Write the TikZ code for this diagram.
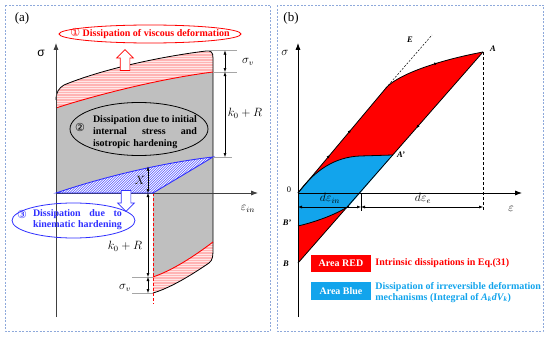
\documentclass[tikz,border=0pt]{standalone}
\usepackage{fontspec}
\setmainfont{Liberation Serif}
\setsansfont{Liberation Sans}
\newfontfamily\circfont{DejaVu Sans}
\usepackage{tikz}
\usetikzlibrary{arrows.meta,positioning,shapes.geometric,shapes.arrows,decorations.markings}
\definecolor{panelblue}{HTML}{8EA9DB}
\definecolor{axisgray}{HTML}{404040}
\definecolor{tickgray}{HTML}{A6A6A6}
\definecolor{bodygray}{HTML}{BFBFBF}
\definecolor{viscred}{HTML}{FF0000}
\definecolor{softred}{HTML}{FFB4B4}
\definecolor{palered}{HTML}{FFE6E6}
\definecolor{kinblue}{HTML}{2F2FFF}
\definecolor{areablue}{HTML}{12A4EC}
\tikzset{
  frameline/.style={draw=panelblue, dash pattern=on 2pt off 1.5pt, line width=0.6pt},
  panelnode/.style={font=\fontsize{13}{15}\selectfont, inner sep=0pt},
  axisedge/.style={-{Latex[length=2.4mm, width=1.8mm]}, line width=1pt, draw=axisgray},
  curveedge/.style={line width=0.8pt, draw=black},
  dimedge/.style={{Latex[length=4pt, width=3pt]}-{Latex[length=4pt, width=3pt]}, line width=0.5pt, draw=black},
  tickline/.style={line width=0.5pt, draw=tickgray},
  hatchline/.style={line width=0.5pt},
  ovalnode/.style={ellipse, line width=0.8pt, inner sep=0pt},
  ovaltext/.style={font=\fontsize{10}{12}\selectfont\bfseries, align=left, inner sep=0pt},
  circnode/.style={font=\circfont\fontsize{11}{12}\selectfont, inner sep=0pt},
  hollowarrow/.style={single arrow, line width=0.7pt, fill=white, inner sep=4.5pt, minimum height=21pt, single arrow head extend=3.5pt},
  mathlabel/.style={font=\fontsize{12}{14}\selectfont, inner sep=0pt},
  pointlabel/.style={font=\fontsize{8.5}{10}\selectfont\bfseries\itshape, inner sep=0pt},
  legendbox/.style={minimum width=60pt, minimum height=17.5pt, inner sep=0pt, text=white, font=\fontsize{10}{12}\selectfont\bfseries},
  legendtext/.style={font=\fontsize{10}{10.5}\selectfont\bfseries, align=left, inner sep=0pt},
  flowmark/.style={postaction={decorate, decoration={markings, mark=at position #1 with {\arrow{Latex[length=3pt, width=3pt]}}}}}
}

\begin{document}
\begin{tikzpicture}[x=1pt, y=-1pt]
  \useasboundingbox (0,0) rectangle (550,340);
  % panel frames
  \draw[frameline] (5,5) rectangle (270,331);
  \draw[frameline] (277,5) rectangle (543,331);
  \node[panelnode] (taga) at (22,18) {(a)};
  \node[panelnode] (tagb) at (291,18) {(b)};

  % ---------- (a) ----------
  \coordinate (oa) at (56,193);
  \fill[bodygray] (oa) -- (56,100) .. controls (56,92) and (59,88) .. (64,85) .. controls (95,72) and (150,58) .. (206,51) .. controls (211,50.5) and (213,52) .. (213,58)
    -- (213,246) .. controls (213,256) and (213,260) .. (209,263) .. controls (190,276) and (170,288) .. (153,293) -- (153,193) -- cycle;
  % viscous part, top
  \begin{scope}
    \clip (56,108) -- (56,100) .. controls (56,92) and (59,88) .. (64,85) .. controls (95,72) and (150,58) .. (206,51) .. controls (211,50.5) and (213,52) .. (213,58)
      -- (213,72) .. controls (150,80) and (80,100) .. (56,108) -- cycle;
    \fill[softred] (50,45) rectangle (220,115);
    \foreach \ly in {46,48.5,...,114}
      \draw[hatchline, palered] (50,\ly) -- (220,\ly);
  \end{scope}
  % viscous part, bottom
  \begin{scope}
    \clip (153,277) .. controls (173,270) and (193,257) .. (213,242)
      -- (213,246) .. controls (213,256) and (213,260) .. (209,263) .. controls (190,276) and (170,288) .. (153,293) -- cycle;
    \fill[softred] (150,238) rectangle (220,298);
    \foreach \ly in {239,241.5,...,297}
      \draw[hatchline, palered] (150,\ly) -- (220,\ly);
  \end{scope}
  % kinematic part
  \begin{scope}
    \clip (oa) .. controls (100,178) and (160,163) .. (213,157) -- (153,193) -- cycle;
    \fill[white] (50,150) rectangle (220,200);
    \foreach \lx in {5,7.5,...,215}
      \draw[line width=0.45pt, kinblue!85] (\lx,200) -- ++(50,-50);
  \end{scope}
  \draw[curveedge] (56,100) .. controls (56,92) and (59,88) .. (64,85) .. controls (95,72) and (150,58) .. (206,51) .. controls (211,50.5) and (213,52) .. (213,58)
    -- (213,246) .. controls (213,256) and (213,260) .. (209,263) .. controls (190,276) and (170,288) .. (153,293);
  \draw[viscred, line width=0.9pt] (56,108) .. controls (80,100) and (150,80) .. (213,72);
  \draw[viscred, line width=0.9pt] (153,277) .. controls (173,270) and (193,257) .. (213,242);
  \draw[viscred, line width=0.8pt, dash pattern=on 3pt off 2pt] (153,193) -- (153,304);
  \draw[axisedge] (56,317) -- (56,43);
  \draw[axisedge] (oa) -- (258,193);
  \draw[kinblue, line width=0.9pt] (153,193) -- (oa) .. controls (100,178) and (160,163) .. (213,157) -- (153,193);
  \node[font=\sffamily\fontsize{12}{14}\selectfont, inner sep=0pt] (siga) at (41,53) {σ};
  \node[mathlabel] (epsin) at (248,209) {$\varepsilon_{in}$};

  % upper dimensions
  \coordinate (sv1) at (225,50.5);
  \coordinate (sv2) at (225,72);
  \coordinate (sv3) at (225,157);
  \draw[tickline] (208,50.5) -- (237,50.5);
  \draw[tickline] (213,72) -- (237,72);
  \draw[tickline] (213,157) -- (232,157);
  \draw[dimedge] (sv1) -- (sv2);
  \draw[dimedge] (sv2) -- (sv3);
  \node[mathlabel] (svtop) at (248,62) {$\sigma_v$};
  \node[mathlabel] (krtop) at (245,113) {$k_0+R$};

  % lower dimensions
  \coordinate (xv) at (148,166.5);
  \coordinate (lv1) at (148,193);
  \coordinate (lv2) at (148,277);
  \coordinate (lv3) at (148,293);
  \draw[tickline] (132,277) -- (153,277);
  \draw[tickline] (132,293) -- (153,293);
  \draw[dimedge] (xv) -- (lv1);
  \draw[dimedge] (lv1) -- (lv2);
  \draw[dimedge] (lv2) -- (lv3);
  \node[mathlabel] (xlab) at (140,180) {$X$};
  \node[mathlabel] (krbot) at (125,246) {$k_0+R$};
  \node[mathlabel] (svbot) at (125,288) {$\sigma_v$};

  % ellipses and hollow arrows
  \node[ovalnode, draw=viscred, minimum width=182pt, minimum height=18pt] (viscoval) at (150,34) {};
  \node[ovaltext, text=viscred] (visctext) at (150,34) {{\circfont\fontsize{11}{12}\selectfont\mdseries ①} Dissipation of viscous deformation};
  \node[hollowarrow, draw=viscred, shape border rotate=90] (viscarrow) at (125,62.5) {};
  \node[ovalnode, draw=black, minimum width=138pt, minimum height=53pt] (isooval) at (139,129) {};
  \node[circnode] (isonum) at (80,127) {②};
  \node[ovaltext, text width=104pt] (isotext) at (145,132) {Dissipation\hfill due\hfill to\hfill initial\\internal\hfill stress\hfill and\\isotropic hardening};
  \node[hollowarrow, draw=kinblue, shape border rotate=270] (kinarrow) at (126,198.5) {};
  \node[ovalnode, draw=kinblue, minimum width=123pt, minimum height=35pt] (kinoval) at (73.5,220.5) {};
  \node[circnode, text=kinblue] (kinnum) at (22,214) {③};
  \node[ovaltext, text=kinblue, text width=89pt, font=\fontsize{10}{11}\selectfont\bfseries] (kintext) at (77.5,219.5) {Dissipation\hfill due\hfill to\\kinematic\hfill hardening};

  % ---------- (b) ----------
  \coordinate (ob) at (298,193);
  \coordinate (knee) at (386,88);
  \coordinate (pta) at (483,52);
  \coordinate (ptap) at (393,155);
  \coordinate (ptb) at (298,263);
  \coordinate (ptbp) at (298,226);
  \coordinate (ptc) at (361,193);
  \coordinate (ptd) at (349,206);
  \coordinate (etip) at (432,35);
  \fill[viscred] (ob) -- (knee) .. controls (395,77) and (430,62) .. (pta) -- (ptb) -- cycle;
  \fill[areablue] (ob) .. controls (315,170) and (335,157) .. (360,156) -- (ptap) -- (ptd) .. controls (335,215) and (315,222) .. (ptbp) -- cycle;
  \draw[curveedge, flowmark=0.36, flowmark=0.6] (ob) -- (knee);
  \draw[curveedge, flowmark=0.55] (knee) .. controls (395,77) and (430,62) .. (pta);
  \draw[curveedge, flowmark=0.36] (pta) -- (ptb);
  \draw[curveedge] (ob) .. controls (315,170) and (335,157) .. (360,156) -- (ptap);
  \draw[curveedge] (ptd) .. controls (335,215) and (315,222) .. (ptbp);
  \draw[line width=0.5pt, dash pattern=on 2pt off 1.5pt] (knee) -- (etip);
  \draw[axisedge, draw=black] (298,317) -- (298,43);
  \draw[axisedge, draw=black] (ob) -- (522,193);
  \draw[line width=0.6pt, dash pattern=on 3pt off 2pt] (pta) -- (483,211);
  \draw[line width=0.5pt] (ptc) -- (361,211);

  % strain increments
  \coordinate (de0) at (298,207);
  \coordinate (de1) at (361,207);
  \coordinate (de2) at (483,207);
  \draw[dimedge] (de0) -- (de1);
  \draw[dimedge] (de1) -- (de2);
  \node[mathlabel] (dein) at (330,198) {$d\varepsilon_{in}$};
  \node[mathlabel] (dee) at (423,198) {$d\varepsilon_{e}$};

  % labels
  \node[mathlabel, font=\fontsize{13}{15}\selectfont] (sigb) at (285,53) {$\sigma$};
  \node[mathlabel, font=\fontsize{13}{15}\selectfont] (epsb) at (511,209) {$\varepsilon$};
  \node[pointlabel] (labe) at (410,40) {E};
  \node[pointlabel] (laba) at (493,49) {A};
  \node[pointlabel] (labap) at (401,155) {A'};
  \node[font=\fontsize{8.5}{10}\selectfont, inner sep=0pt] (labo) at (289,190) {0};
  \node[pointlabel] (labbp) at (287,223) {B'};
  \node[pointlabel] (labb) at (286,264) {B};

  % legend
  \node[legendbox, fill=viscred] (redkey) at (341,263.5) {Area RED};
  \node[legendtext, text=viscred, right=4pt of redkey] (redtext) {Intrinsic dissipations in Eq.(31)};
  \node[legendbox, fill=areablue] (bluekey) at (341,291) {Area Blue};
  \node[legendtext, text=areablue, right=4pt of bluekey, yshift=-1.5pt] (bluetext) {Dissipation of irreversible deformation\\mechanisms (Integral of \textit{A\textsubscript{k}dV\textsubscript{k}})};
\end{tikzpicture}
\end{document}
